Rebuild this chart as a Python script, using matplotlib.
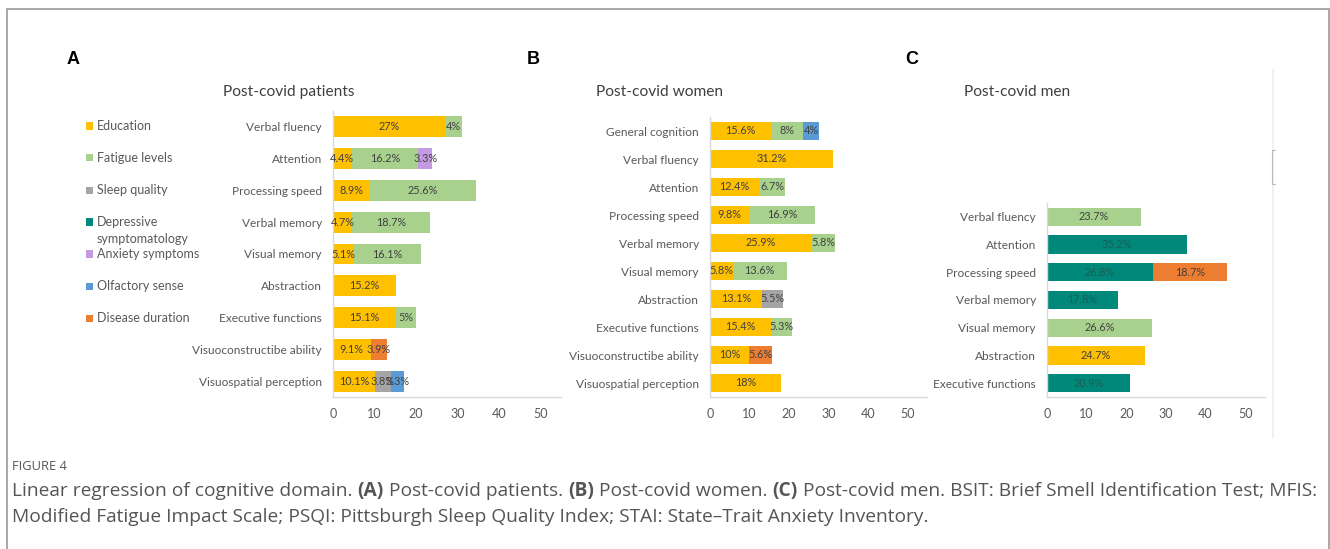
import matplotlib
matplotlib.use("Agg")
import matplotlib.pyplot as plt
from matplotlib.patches import Rectangle
from matplotlib.lines import Line2D

W, H = 1330, 549

# Predictors (order of stacking) and their colours
predictors = ["Education", "Fatigue levels", "Sleep quality", "Depressive\nsymptomatology",
              "Anxiety symptoms", "Olfactory sense", "Disease duration"]
colors = ["#FFC000", "#A9D18E", "#A5A5A5", "#00897B", "#C49BE3", "#5B9BD5", "#ED7D31"]

# A - post-covid patients
a_domains = ["Verbal fluency", "Attention", "Processing speed", "Verbal memory", "Visual memory",
             "Abstraction", "Executive functions", "Visuoconstructibe ability", "Visuospatial perception"]
a_education = [27, 4.4, 8.9, 4.7, 5.1, 15.2, 15.1, 9.1, 10.1]
a_fatigue = [4, 16.2, 25.6, 18.7, 16.1, 0, 5, 0, 0]
a_sleep = [0, 0, 0, 0, 0, 0, 0, 0, 3.8]
a_depressive = [0, 0, 0, 0, 0, 0, 0, 0, 0]
a_anxiety = [0, 3.3, 0, 0, 0, 0, 0, 0, 0]
a_olfactory = [0, 0, 0, 0, 0, 0, 0, 0, 3.3]
a_duration = [0, 0, 0, 0, 0, 0, 0, 3.9, 0]

# B - post-covid women
b_domains = ["General cognition", "Verbal fluency", "Attention", "Processing speed", "Verbal memory",
             "Visual memory", "Abstraction", "Executive functions", "Visuoconstructibe ability",
             "Visuospatial perception"]
b_education = [15.6, 31.2, 12.4, 9.8, 25.9, 5.8, 13.1, 15.4, 10, 18]
b_fatigue = [8, 0, 6.7, 16.9, 5.8, 13.6, 0, 5.3, 0, 0]
b_sleep = [0, 0, 0, 0, 0, 0, 5.5, 0, 0, 0]
b_depressive = [0, 0, 0, 0, 0, 0, 0, 0, 0, 0]
b_anxiety = [0, 0, 0, 0, 0, 0, 0, 0, 0, 0]
b_olfactory = [4, 0, 0, 0, 0, 0, 0, 0, 0, 0]
b_duration = [0, 0, 0, 0, 0, 0, 0, 0, 5.6, 0]

# C - post-covid men
c_domains = ["Verbal fluency", "Attention", "Processing speed", "Verbal memory", "Visual memory",
             "Abstraction", "Executive functions"]
c_education = [0, 0, 0, 0, 0, 24.7, 0]
c_fatigue = [23.7, 0, 0, 0, 26.6, 0, 0]
c_sleep = [0, 0, 0, 0, 0, 0, 0]
c_depressive = [0, 35.2, 26.8, 17.8, 0, 0, 20.9]
c_anxiety = [0, 0, 0, 0, 0, 0, 0]
c_olfactory = [0, 0, 0, 0, 0, 0, 0]
c_duration = [0, 0, 18.7, 0, 0, 0, 0]

x_ticks = [0, 10, 20, 30, 40, 50]

FONT = "Lato"
plt.rcParams["font.family"] = [FONT, "DejaVu Sans"]

fig = plt.figure(figsize=(W / 100, H / 100), dpi=100)


def px_box(left, top, right, bottom):
    return [left / W, 1 - bottom / H, (right - left) / W, (bottom - top) / H]


def fx(x):
    return x / W


def fy(y):
    return 1 - y / H


def stacked_panel(box, domains, series):
    ax = fig.add_axes(px_box(*box))
    ys = list(range(len(domains)))
    left = [0.0] * len(domains)
    for k, vals in enumerate(series):
        ax.barh(ys, vals, left=left, height=0.66, color=colors[k], edgecolor="none")
        for i, v in enumerate(vals):
            if v:
                tc = "#1d5c55" if k == 3 else "#404040"
                ax.text(left[i] + v / 2, i, f"{v:g}%", ha="center", va="center",
                        fontsize=7.8, color=tc)
        left = [l + v for l, v in zip(left, vals)]
    ax.set_yticks(ys)
    ax.set_yticklabels(domains, fontsize=8.6, color="#595959")
    ax.set_ylim(len(domains) - 0.5, -0.5)
    ax.set_xlim(0, 55)
    ax.set_xticks(x_ticks)
    ax.tick_params(axis="x", labelsize=9, colors="#595959", length=0, pad=8)
    ax.tick_params(axis="y", length=0, pad=8)
    for s in ["top", "right"]:
        ax.spines[s].set_visible(False)
    for s in ["left", "bottom"]:
        ax.spines[s].set_color("#D9D9D9")
        ax.spines[s].set_linewidth(1.0)
    return ax


stacked_panel((333, 111, 561, 397), a_domains,
              [a_education, a_fatigue, a_sleep, a_depressive, a_anxiety, a_olfactory, a_duration])
stacked_panel((710, 117, 927, 397), b_domains,
              [b_education, b_fatigue, b_sleep, b_depressive, b_anxiety, b_olfactory, b_duration])
stacked_panel((1047, 203, 1265, 397), c_domains,
              [c_education, c_fatigue, c_sleep, c_depressive, c_anxiety, c_olfactory, c_duration])

# panel titles and letters
for x, t in [(289, "Post-covid patients"), (660, "Post-covid women"), (1017, "Post-covid men")]:
    fig.text(fx(x), fy(92), t, ha="center", va="center", fontsize=11.2, color="#404040")
for x, t in [(73, "A"), (533, "B"), (912, "C")]:
    fig.text(fx(x), fy(60), t, ha="center", va="center", fontsize=13, fontweight="bold",
             family="Liberation Sans", color="black")

# legend
for k, (name, c) in enumerate(zip(predictors, colors)):
    y = 126 + 32 * k
    fig.add_artist(Rectangle((fx(86), fy(y + 3.5)), 7 / W, 7 / H, transform=fig.transFigure,
                             facecolor=c, edgecolor="none"))
    for j, part in enumerate(name.split("\n")):
        fig.text(fx(97), fy(y + 17 * j), part, ha="left", va="center",
                 fontsize=9, color="#595959")

# outer frame and faint edge of the chart image
fig.add_artist(Rectangle((fx(7), fy(600)), (1329 - 7) / W, (600 - 9) / H, transform=fig.transFigure,
                         facecolor="none", edgecolor="#9A9A9A", linewidth=1.2, clip_on=False))
fig.add_artist(Line2D([fx(1273), fx(1273)], [fy(70), fy(437)], transform=fig.transFigure,
                      color="#EEEEEE", linewidth=1.2))
fig.add_artist(Line2D([fx(1275), fx(1272), fx(1272), fx(1275)], [fy(150), fy(150), fy(184), fy(184)],
                      transform=fig.transFigure, color="#BBBBBB", linewidth=0.8))

# caption
fig.text(fx(12), fy(466), "FIGURE 4", ha="left", va="center", fontsize=9.3, color="#555555",
         family="Open Sans")

caption = [
    [("Linear regression of cognitive domain. ", False), ("(A)", True), (" Post-covid patients. ", False),
     ("(B)", True), (" Post-covid women. ", False), ("(C)", True),
     (" Post-covid men. BSIT: Brief Smell Identification Test; MFIS:", False)],
    [("Modified Fatigue Impact Scale; PSQI: Pittsburgh Sleep Quality Index; STAI: State\u2013Trait Anxiety Inventory.", False)],
]
renderer = fig.canvas.get_renderer()
for line, y in zip(caption, [491, 517]):
    x = fx(12)
    for txt, bold in line:
        t = fig.text(x, fy(y), txt, ha="left", va="center", fontsize=13.8, color="#555555",
                     family="Open Sans", fontweight="bold" if bold else "normal")
        bb = t.get_window_extent(renderer=renderer)
        x += bb.width / W

fig.savefig("out.png", dpi=100)
